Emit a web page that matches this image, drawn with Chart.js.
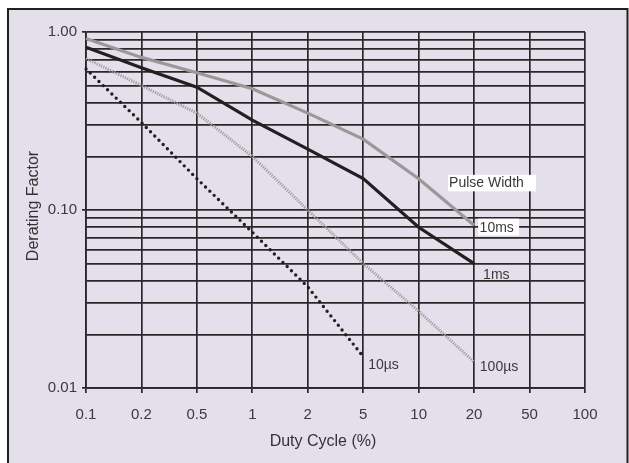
<!DOCTYPE html>
<html>
<head>
<meta charset="utf-8">
<title>Derating Factor vs Duty Cycle</title>
<script src="https://cdn.jsdelivr.net/npm/chart.js@4/dist/chart.umd.min.js"></script>
<style>
  html, body { margin: 0; padding: 0; background: #ffffff; }
  canvas { display: block; }
</style>
</head>
<body>
<canvas id="chart" width="629" height="463"></canvas>
<script>
// Duty cycle categories (%), evenly spaced along the x axis
const categories = ['0.1', '0.2', '0.5', '1', '2', '5', '10', '20', '50', '100'];

// Derating factor for each pulse width
const pw10ms  = [0.92, 0.72, 0.59, 0.48, 0.35, 0.25, 0.15, 0.082];
const pw1ms   = [0.82, 0.63, 0.49, 0.32, 0.22, 0.15, 0.08, 0.05];
const pw100us = [0.71, 0.50, 0.35, 0.20, 0.10, 0.05, 0.027, 0.014];
const pw10us  = [0.62, 0.31, 0.15, 0.075, 0.037, 0.015];

// Logarithmic grid values and the labelled decades
const yGridValues = [0.01, 0.02, 0.03, 0.04, 0.05, 0.06, 0.07, 0.08, 0.09,
                     0.1, 0.2, 0.3, 0.4, 0.5, 0.6, 0.7, 0.8, 0.9, 1];
const yMajorValues = [0.01, 0.1, 1];
const yMajorLabels = ['0.01', '0.10', '1.00'];

const GRID = '#2b2728';
const TEXT = '#3a3a3a';
const TICK_FONT = '"Liberation Sans Narrow", "Liberation Sans", Arial, sans-serif';
const LABEL_FONT = '"Liberation Sans", Arial, sans-serif';

// Panel background with its frame
const framePlugin = {
  id: 'frame',
  beforeDraw(chart) {
    const c = chart.ctx;
    c.save();
    c.fillStyle = '#ffffff';
    c.fillRect(0, 0, chart.width, chart.height);
    c.fillStyle = '#e3dfeb';
    c.fillRect(7, 9, 621, chart.height);
    c.strokeStyle = '#231f20';
    c.lineWidth = 2;
    c.beginPath();
    c.moveTo(8, chart.height + 2);
    c.lineTo(8, 9);
    c.lineTo(627.5, 9);
    c.lineTo(627.5, chart.height + 2);
    c.stroke();
    c.restore();
  }
};

// Axis titles
const titlePlugin = {
  id: 'axisTitles',
  afterDraw(chart) {
    const c = chart.ctx;
    c.save();
    c.fillStyle = '#333333';
    c.font = '16px ' + LABEL_FONT;
    c.textAlign = 'center';
    c.textBaseline = 'middle';
    c.fillText('Duty Cycle (%)', 323, 442);
    c.translate(34, 206);
    c.rotate(-Math.PI / 2);
    c.fillText('Derating Factor', 0, 0);
    c.restore();
  }
};

// Curve labels, placed relative to the end point of each curve
const curveLabels = [
  { text: 'Pulse Width', dataset: 0, dx: -25, dy: -38, box: [-26, -50.5, 88, 16.5] },
  { text: '10ms',        dataset: 0, dx: 5.5, dy: 6.7, box: [4, -6.7, 41, 16.7] },
  { text: '1ms',         dataset: 1, dx: 9,   dy: 15.7 },
  { text: '100\u00b5s',  dataset: 2, dx: 5.7, dy: 9.5 },
  { text: '10\u00b5s',   dataset: 3, dx: 5,   dy: 12 }
];

const labelPlugin = {
  id: 'curveLabels',
  afterDatasetsDraw(chart) {
    const c = chart.ctx;
    const xs = chart.scales.x, ys = chart.scales.y;
    c.save();
    c.font = '14px ' + LABEL_FONT;
    c.textAlign = 'left';
    c.textBaseline = 'alphabetic';
    curveLabels.forEach(l => {
      const data = chart.data.datasets[l.dataset].data;
      const i = data.length - 1;
      const px = xs.getPixelForValue(i);
      const py = ys.getPixelForValue(data[i]);
      if (l.box) {
        c.fillStyle = '#ffffff';
        c.fillRect(px + l.box[0], py + l.box[1], l.box[2], l.box[3]);
      }
      c.fillStyle = TEXT;
      c.fillText(l.text, px + l.dx, py + l.dy);
    });
    c.restore();
  }
};

new Chart(document.getElementById('chart'), {
  type: 'line',
  data: {
    labels: categories,
    datasets: [
      { label: '10ms', data: pw10ms, borderColor: '#999999', borderWidth: 3.2 },
      { label: '1ms', data: pw1ms, borderColor: '#231f20', borderWidth: 3.2 },
      { label: '100\u00b5s', data: pw100us, borderColor: '#9e9e9e', borderWidth: 3,
        borderDash: [1.2, 1.2] },
      { label: '10\u00b5s', data: pw10us, borderColor: '#231f20', borderWidth: 3.4,
        borderDash: [0, 6], borderCapStyle: 'round' }
    ]
  },
  options: {
    responsive: false,
    animation: false,
    events: [],
    layout: { padding: { left: 0, right: 44, top: 32, bottom: 0 } },
    elements: {
      point: { radius: 0 },
      line: { tension: 0, fill: false }
    },
    plugins: {
      legend: { display: false },
      tooltip: { enabled: false }
    },
    scales: {
      x: {
        type: 'category',
        offset: false,
        grid: { color: GRID, lineWidth: 1.7, tickLength: 5, tickColor: GRID },
        border: { display: true, color: GRID, width: 1.7 },
        ticks: {
          autoSkip: false, maxRotation: 0, padding: 13,
          color: TEXT, font: { family: TICK_FONT, size: 15 }
        },
        afterFit(scale) { scale.height = 75; }
      },
      y: {
        type: 'logarithmic',
        min: 0.01,
        max: 1,
        afterBuildTicks(scale) {
          scale.ticks = yGridValues.map(v => ({ value: v }));
        },
        grid: {
          color: GRID, lineWidth: 1.7, tickLength: 4,
          tickColor: ctx => (yMajorValues.includes(ctx.tick && ctx.tick.value) ? GRID : 'rgba(0,0,0,0)')
        },
        border: { display: true, color: GRID, width: 1.7 },
        ticks: {
          autoSkip: false, padding: 5,
          color: TEXT, font: { family: TICK_FONT, size: 15 },
          callback(value) {
            const k = yMajorValues.indexOf(value);
            return k >= 0 ? yMajorLabels[k] : '';
          }
        },
        afterFit(scale) { scale.width = 86; }
      }
    }
  },
  plugins: [framePlugin, titlePlugin, labelPlugin]
});
</script>
</body>
</html>
